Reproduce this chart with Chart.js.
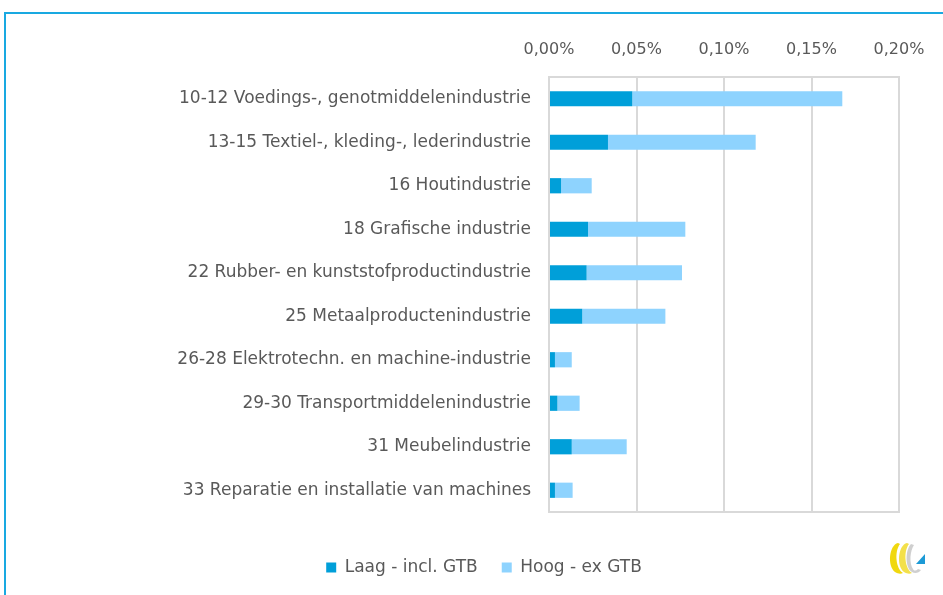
<!DOCTYPE html>
<html>
<head>
<meta charset="utf-8">
<script src="https://cdn.jsdelivr.net/npm/chart.js@4"></script>
<style>
  html, body { margin: 0; padding: 0; background: #fff; }
  #wrap { position: relative; width: 943px; height: 595px; overflow: hidden; }
  #frame { position: absolute; left: 4px; top: 12px; width: 960px; height: 600px;
           border-top: 2px solid #19a9e1; border-left: 2px solid #19a9e1; }
  #c { position: absolute; left: 0; top: 0; }
  #logo { position: absolute; left: 886px; top: 540px; }
</style>
</head>
<body>
<div id="wrap">
  <div id="frame"></div>
  <canvas id="c" width="943" height="595"></canvas>
  <svg id="logo" width="42" height="38" viewBox="0 0 42 38">
    <path d="M12 3 C3 5 1 26 9 32 C12 34 15 34 17 33 C10 29 8 12 14 4 Z" fill="#f0d80f"/>
    <path d="M21 3 C12 5 10 26 18 32 C21 34 24 34 26 33 C19 29 17 12 23 4 Z" fill="#f3e04a"/>
    <path d="M25 4 C19 10 19 28 26 32 C29 34 33 33 35 30 L32 29 C30 31 28 31 27 29 C23 23 24 11 28 5 Z" fill="#cfcfcf"/>
    <path d="M30 24 L39 14 L39 24 Z" fill="#1c9ad6"/>
  </svg>
</div>
<script>
const categories = [
  '10-12 Voedings-, genotmiddelenindustrie',
  '13-15 Textiel-, kleding-, lederindustrie',
  '16 Houtindustrie',
  '18 Grafische industrie',
  '22 Rubber- en kunststofproductindustrie',
  '25 Metaalproductenindustrie',
  '26-28 Elektrotechn. en machine-industrie',
  '29-30 Transportmiddelenindustrie',
  '31 Meubelindustrie',
  '33 Reparatie en installatie van machines'
];

// values in percent
const laagInclGTB = [0.0476, 0.0337, 0.0069, 0.0223, 0.0215, 0.0190, 0.0034, 0.0048, 0.0130, 0.0034];
const hoogExGTB   = [0.1200, 0.0844, 0.0175, 0.0556, 0.0545, 0.0475, 0.0096, 0.0127, 0.0314, 0.0101];

const xTicks = [0, 0.05, 0.10, 0.15, 0.20];

const textColor = '#595959';
const gridColor = '#d9d9d9';
const fontFamily = 'DejaVu Sans';

const plotFrame = {
  id: 'plotFrame',
  afterDatasetsDraw(chart) {
    const { ctx, chartArea: a } = chart;
    ctx.save();
    ctx.strokeStyle = gridColor;
    ctx.lineWidth = 2;
    ctx.strokeRect(a.left, a.top, a.right - a.left, a.bottom - a.top);
    ctx.restore();
  }
};

new Chart(document.getElementById('c'), {
  type: 'bar',
  data: {
    labels: categories,
    datasets: [
      {
        label: 'Laag - incl. GTB',
        data: laagInclGTB,
        backgroundColor: '#009fd9',
        barPercentage: 0.7,
        categoryPercentage: 0.5
      },
      {
        label: 'Hoog - ex GTB',
        data: hoogExGTB,
        backgroundColor: '#8ed3fe',
        barPercentage: 0.7,
        categoryPercentage: 0.5
      }
    ]
  },
  options: {
    indexAxis: 'y',
    responsive: false,
    animation: false,
    font: { family: fontFamily },
    layout: { padding: { left: 69, right: 44, top: 0, bottom: 9 } },
    plugins: {
      legend: {
        position: 'bottom',
        title: { display: true, text: ' ', padding: { top: 5, bottom: 0 }, font: { size: 15 } },
        labels: {
          boxWidth: 10,
          boxHeight: 10,
          padding: 24,
          color: textColor,
          font: { family: fontFamily, size: 17 }
        }
      },
      tooltip: { enabled: false }
    },
    scales: {
      x: {
        position: 'top',
        stacked: true,
        min: 0,
        max: 0.20,
        afterBuildTicks: scale => { scale.ticks = xTicks.map(v => ({ value: v })); },
        afterFit: scale => { scale.height = 77; },
        ticks: {
          color: textColor,
          padding: 18,
          font: { family: fontFamily, size: 16 },
          callback: v => v.toFixed(2).replace('.', ',') + '%'
        },
        grid: { color: gridColor, lineWidth: 2, drawTicks: false },
        border: { display: false }
      },
      y: {
        stacked: true,
        afterFit: scale => { scale.width = 549 - 69; },
        ticks: {
          color: textColor,
          padding: 18,
          font: { family: fontFamily, size: 17 }
        },
        grid: { display: false, drawTicks: false },
        border: { display: false }
      }
    }
  },
  plugins: [plotFrame]
});
</script>
</body>
</html>
